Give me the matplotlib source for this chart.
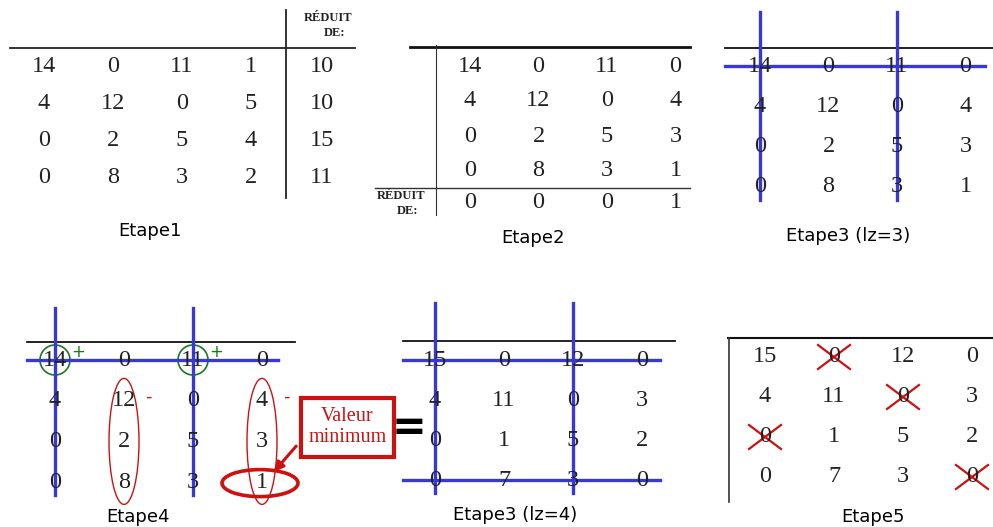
import matplotlib.pyplot as plt
from matplotlib.patches import Ellipse, Circle, Rectangle

# matrices of each step
etape1 = [[14, 0, 11, 1], [4, 12, 0, 5], [0, 2, 5, 4], [0, 8, 3, 2]]
reduit1 = [10, 10, 15, 11]
etape2 = [[14, 0, 11, 0], [4, 12, 0, 4], [0, 2, 5, 3], [0, 8, 3, 1]]
reduit2 = [0, 0, 0, 1]
etape3b = [[15, 0, 12, 0], [4, 11, 0, 3], [0, 1, 5, 2], [0, 7, 3, 0]]

lignes3, cols3 = [0], [0, 2]          # covered in Etape3 (lz=3)
lignes3b, cols3b = [0, 3], [0, 2]     # covered in Etape3 (lz=4)
cercles4 = [(0, 0), (0, 2)]
ovales4 = [1, 3]
min4 = (3, 3)
barres5 = [(0, 1), (1, 2), (2, 0), (3, 3)]

BLUE = '#3838d8'
RED = '#cc1111'
GREEN = '#1a7a1a'
NUM = '#222222'

fig = plt.figure(figsize=(9.93, 5.27), dpi=100)
ax = fig.add_axes([0, 0, 1, 1])
ax.set_xlim(0, 993)
ax.set_ylim(527, 0)
ax.axis('off')


def matrice(mat, x0, y0, dx, dy):
    for i, row in enumerate(mat):
        for j, v in enumerate(row):
            ax.text(x0 + j * dx, y0 + i * dy, str(v), ha='center', va='center',
                    family='Liberation Serif', fontsize=17.5, color=NUM)


def titre(x, y, s):
    ax.text(x, y, s, ha='center', va='center', family='DejaVu Sans', fontsize=13, color='black')


def reduit(x, y):
    ax.text(x, y, 'RÉDUIT', ha='right', va='center', family='Liberation Serif',
            fontsize=9, weight='bold', color=NUM)
    ax.text(x - 7, y + 15, 'DE:', ha='right', va='center', family='Liberation Serif',
            fontsize=9, weight='bold', color=NUM)


# Etape1
matrice(etape1, 44, 66, 69, 37.3)
for i, v in enumerate(reduit1):
    ax.text(322, 66 + i * 37.3, str(v), ha='center', va='center',
            family='Liberation Serif', fontsize=17.5, color=NUM)
ax.plot([10, 355], [48, 48], color='#222', lw=1.3)
ax.plot([286, 286], [10, 198], color='#222', lw=1.3)
reduit(352, 18)
titre(150, 231, 'Etape1')

# Etape2
matrice(etape2, 470, 66, 68.5, 35)
for j, v in enumerate(reduit2):
    ax.text(470 + j * 68.5, 202, str(v), ha='center', va='center',
            family='Liberation Serif', fontsize=17.5, color=NUM)
ax.plot([410, 690], [47, 47], color='#111', lw=2)
ax.plot([436, 436], [45, 215], color='#333', lw=0.8)
ax.plot([375, 690], [188, 188], color='#333', lw=1)
reduit(425, 196)
titre(533, 238, 'Etape2')

# Etape3 (lz=3)
x0, y0, dx, dy = 760, 66, 68.5, 40.3
matrice(etape2, x0, y0, dx, dy)
ax.plot([725, 993], [48, 48], color='#111', lw=1.3)
for j in cols3:
    ax.plot([x0 + j * dx, x0 + j * dx], [12, 200], color=BLUE, lw=2.4)
for i in lignes3:
    ax.plot([725, 985], [y0 + i * dy, y0 + i * dy], color=BLUE, lw=2.4)
titre(848, 236, 'Etape3 (lz=3)')

# Etape4
x0, y0, dx, dy = 55, 360, 69, 40.7
matrice(etape2, x0, y0, dx, dy)
ax.plot([27, 295], [342, 342], color='#111', lw=1.3)
for j in cols3:
    ax.plot([x0 + j * dx, x0 + j * dx], [308, 495], color=BLUE, lw=2.4)
for i in lignes3:
    ax.plot([27, 278], [y0 + i * dy, y0 + i * dy], color=BLUE, lw=2.4)
for i, j in cercles4:
    ax.add_patch(Circle((x0 + j * dx, y0 + i * dy), 15, fill=False, ec=GREEN, lw=1.2))
    ax.text(x0 + j * dx + 23, y0 + i * dy - 8, '+', ha='center', va='center',
            fontsize=12, color=GREEN, family='DejaVu Sans')
for j in ovales4:
    cx = x0 + j * dx
    ax.add_patch(Ellipse((cx, y0 + 2 * dy), 30, 126, fill=False, ec=RED, lw=1))
    ax.text(cx + 24, y0 + dy - 4, '-', ha='center', va='center',
            fontsize=13, color=RED, family='DejaVu Sans')
mi, mj = min4
ax.add_patch(Ellipse((x0 + mj * dx - 2, y0 + mi * dy + 1), 76, 27, fill=False, ec=RED, lw=2.6))
ax.add_patch(Rectangle((301, 398), 93, 59, fill=False, ec=RED, lw=3))
ax.text(347.5, 427, 'Valeur\nminimum', ha='center', va='center', family='Liberation Serif',
        fontsize=14.5, color=RED, linespacing=1.15)
ax.annotate('', xy=(272, 474), xytext=(298, 444),
            arrowprops=dict(arrowstyle='-|>', color=RED, lw=2.2, mutation_scale=14))
ax.text(409, 428, '=', ha='center', va='center', fontsize=30, weight='bold', color='black',
        family='DejaVu Sans')
titre(138, 517, 'Etape4')

# Etape3 (lz=4)
x0, y0, dx, dy = 435, 360, 69, 40
matrice(etape3b, x0, y0, dx, dy)
ax.plot([403, 675], [341, 341], color='#111', lw=1.3)
for j in cols3b:
    ax.plot([x0 + j * dx, x0 + j * dx], [303, 493], color=BLUE, lw=2.4)
for i in lignes3b:
    ax.plot([403, 660], [y0 + i * dy, y0 + i * dy], color=BLUE, lw=2.4)
titre(515, 515, 'Etape3 (lz=4)')

# Etape5
x0, y0, dx, dy = 765, 357, 69, 40
matrice(etape3b, x0, y0, dx, dy)
ax.plot([728, 993], [338, 338], color='#111', lw=1.5)
ax.plot([729, 729], [338, 502], color='#333', lw=1.2)
for i, j in barres5:
    cx, cy = x0 + j * dx, y0 + i * dy
    ax.plot([cx - 16, cx + 16], [cy - 12, cy + 12], color=RED, lw=1.6)
    ax.plot([cx - 16, cx + 16], [cy + 12, cy - 12], color=RED, lw=1.6)
titre(873, 517, 'Etape5')

fig.savefig('out.png', dpi=100)
